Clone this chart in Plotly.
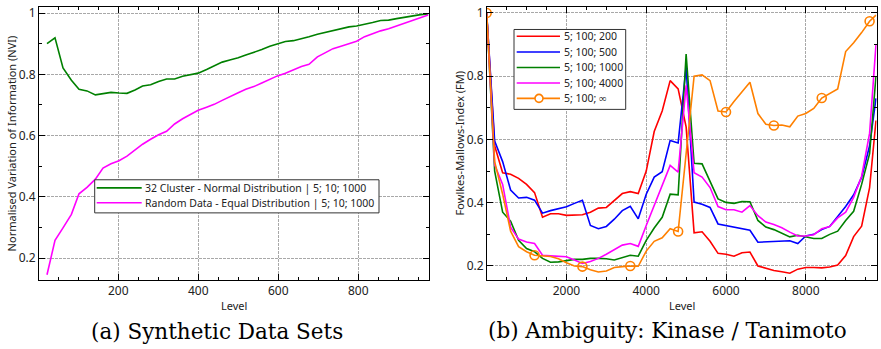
import plotly.graph_objects as go

# ---------------- data: (a) Synthetic Data Sets ----------------
levels_a = [22, 42, 62, 83, 102, 122, 143, 162, 182, 202, 222, 242, 261, 281, 301, 321,
            341, 361, 381, 400, 421, 440, 460, 479, 500, 519, 539, 559, 579, 598, 618,
            638, 658, 677, 698, 717, 737, 757, 777, 796, 816, 836, 856, 876, 896, 916,
            936, 956, 975]
cluster_nvi = [0.900, 0.919, 0.821, 0.781, 0.751, 0.746, 0.733, 0.737, 0.741, 0.739, 0.738,
               0.749, 0.762, 0.766, 0.777, 0.785, 0.785, 0.794, 0.798, 0.804, 0.816, 0.828,
               0.840, 0.847, 0.854, 0.863, 0.871, 0.881, 0.892, 0.899, 0.907, 0.910, 0.916,
               0.923, 0.931, 0.937, 0.943, 0.948, 0.955, 0.958, 0.963, 0.969, 0.976, 0.977,
               0.982, 0.987, 0.992, 0.995, 0.997]
random_nvi = [0.146, 0.258, 0.299, 0.343, 0.410, 0.431, 0.458, 0.494, 0.508, 0.518, 0.533,
              0.553, 0.572, 0.588, 0.603, 0.614, 0.638, 0.655, 0.670, 0.683, 0.693, 0.702,
              0.715, 0.728, 0.740, 0.751, 0.760, 0.772, 0.785, 0.795, 0.804, 0.815, 0.826,
              0.833, 0.857, 0.870, 0.884, 0.892, 0.899, 0.908, 0.923, 0.933, 0.942, 0.949,
              0.958, 0.965, 0.974, 0.984, 0.994]
names_a = ["32 Cluster - Normal Distribution | 5; 10; 1000",
           "Random Data - Equal Distribution | 5; 10; 1000"]
colors_a = ["#008000", "#ff00ff"]

# ---------------- data: (b) Ambiguity: Kinase / Tanimoto ----------------
levels_b = [0, 200, 400, 600, 800, 1000, 1200, 1400, 1600, 1800, 2000, 2200, 2400, 2600,
            2800, 3000, 3200, 3400, 3600, 3800, 4000, 4200, 4400, 4600, 4800, 5000, 5200,
            5400, 5600, 5800, 6000, 6200, 6400, 6600, 6800, 7000, 7200, 7400, 7600, 7800,
            8000, 8200, 8400, 8600, 8800, 9000, 9200, 9400, 9600, 9760]
fm_200 = [1.0, 0.58, 0.495, 0.490, 0.477, 0.458, 0.432, 0.354, 0.365, 0.365, 0.360, 0.360,
          0.362, 0.370, 0.383, 0.385, 0.406, 0.429, 0.435, 0.429, 0.500, 0.625, 0.690,
          0.786, 0.760, 0.640, 0.305, 0.308, 0.278, 0.240, 0.237, 0.231, 0.242, 0.244,
          0.200, 0.192, 0.186, 0.182, 0.177, 0.190, 0.195, 0.195, 0.194, 0.197, 0.203,
          0.233, 0.293, 0.326, 0.448, 0.66]
fm_500 = [1.0, 0.595, 0.530, 0.440, 0.415, 0.417, 0.408, 0.367, 0.375, 0.380, 0.387, 0.398,
          0.408, 0.328, 0.318, 0.325, 0.348, 0.375, 0.389, 0.349, 0.427, 0.481, 0.498,
          0.597, 0.589, 0.830, 0.402, 0.395, 0.385, 0.333, 0.328, 0.323, 0.318, 0.313,
          0.275, 0.276, 0.279, 0.278, 0.280, 0.271, 0.295, 0.300, 0.315, 0.325, 0.358,
          0.388, 0.425, 0.480, 0.580, 0.73]
fm_1000 = [1.0, 0.50, 0.370, 0.342, 0.281, 0.255, 0.245, 0.224, 0.212, 0.213, 0.217, 0.221,
           0.221, 0.224, 0.224, 0.223, 0.219, 0.227, 0.234, 0.231, 0.281, 0.320, 0.354,
           0.427, 0.425, 0.870, 0.525, 0.523, 0.469, 0.412, 0.401, 0.398, 0.404, 0.403,
           0.344, 0.323, 0.315, 0.304, 0.292, 0.297, 0.292, 0.287, 0.287, 0.300, 0.310,
           0.344, 0.373, 0.458, 0.555, 0.80]
fm_4000 = [1.0, 0.52, 0.458, 0.323, 0.285, 0.276, 0.271, 0.234, 0.232, 0.231, 0.229, 0.219,
           0.208, 0.214, 0.224, 0.237, 0.252, 0.266, 0.271, 0.262, 0.328, 0.391, 0.458,
           0.518, 0.497, 0.771, 0.495, 0.481, 0.448, 0.388, 0.378, 0.378, 0.370, 0.391,
           0.359, 0.339, 0.331, 0.321, 0.307, 0.295, 0.295, 0.299, 0.318, 0.325, 0.352,
           0.370, 0.417, 0.484, 0.620, 0.90]
fm_inf = [1.0, 0.53, 0.427, 0.310, 0.261, 0.245, 0.234, 0.232, 0.230, 0.223, 0.210, 0.200,
          0.198, 0.188, 0.181, 0.184, 0.195, 0.198, 0.200, 0.199, 0.247, 0.278, 0.289,
          0.318, 0.309, 0.555, 0.800, 0.804, 0.786, 0.690, 0.687, 0.720, 0.750, 0.781,
          0.682, 0.648, 0.644, 0.646, 0.640, 0.674, 0.682, 0.698, 0.731, 0.745, 0.760,
          0.878, 0.906, 0.938, 0.974, 0.993]
names_b = ["5; 100; 200", "5; 100; 500", "5; 100; 1000", "5; 100; 4000", "5; 100; ∞"]
colors_b = ["#ff0000", "#0000ff", "#008000", "#ff00ff", "#ff8000"]
marker_every = 6

W, H = 881, 349
TICKFONT = dict(family="Noto Sans", size=12, color="#222222")
LEGFONT = dict(family="Noto Sans", size=10.5, color="#222222")
LW = 1.6

fig = go.Figure()

# left panel
for ys, nm, col in zip([cluster_nvi, random_nvi], names_a, colors_a):
    fig.add_trace(go.Scatter(x=levels_a, y=ys, name=nm, mode="lines",
                             line=dict(color=col, width=LW), xaxis="x", yaxis="y"))

# right panel
for ys, nm, col in zip([fm_200, fm_500, fm_1000, fm_4000, fm_inf], names_b, colors_b):
    fig.add_trace(go.Scatter(x=levels_b, y=ys, name=nm, mode="lines",
                             line=dict(color=col, width=LW), xaxis="x2", yaxis="y2"))
fig.add_trace(go.Scatter(x=levels_b[::marker_every], y=fm_inf[::marker_every],
                         mode="markers", name=names_b[4],
                         marker=dict(symbol="circle-open", size=9,
                                     color=colors_b[4], line=dict(width=1.6)),
                         xaxis="x2", yaxis="y2"))


def axis(domain, anchor, rng, dtick, minor_dtick, tickformat=None):
    d = dict(domain=domain, anchor=anchor, range=rng, dtick=dtick, tick0=0,
             showline=True, linecolor="black", linewidth=1, mirror="ticks",
             ticks="inside", ticklen=6, tickcolor="black", tickwidth=1,
             showgrid=True, gridcolor="#a8a8a8", gridwidth=1, griddash="3px,1px",
             zeroline=False, tickfont=TICKFONT,
             minor=dict(dtick=minor_dtick, ticks="inside", ticklen=3,
                        tickcolor="black", showgrid=False))
    if tickformat:
        d["tickformat"] = tickformat
    return d


ydom = [1 - 279.3 / H, 1 - 4 / H]
fig.update_layout(
    width=W, height=H, margin=dict(l=0, r=0, t=0, b=0),
    paper_bgcolor="white", plot_bgcolor="white", showlegend=False,
    xaxis=axis([39 / W, 429 / W], "y", [2, 977], 200, 50, "d"),
    yaxis=axis(ydom, "x", [0.129, 1.020], 0.2, 0.1),
    xaxis2=axis([487 / W, 876.7 / W], "y2", [8, 9778], 2000, 500, "d"),
    yaxis2=axis(ydom, "x2", [0.156, 1.019], 0.2, 0.1),
)


def px(x):
    return x / W


def py(y):
    return 1 - y / H


shapes = []
annotations = []


def legend_box(x0, y0, x1, y1, line_x0, line_x1, text_x, rows, names, colors, marker_idx=None, marker_x=None):
    shapes.append(dict(type="rect", xref="paper", yref="paper",
                       x0=px(x0), x1=px(x1), y0=py(y1), y1=py(y0),
                       fillcolor="white", line=dict(color="#333333", width=1)))
    for i, (ry, nm, col) in enumerate(zip(rows, names, colors)):
        shapes.append(dict(type="line", xref="paper", yref="paper",
                           x0=px(line_x0), x1=px(line_x1), y0=py(ry), y1=py(ry),
                           line=dict(color=col, width=LW)))
        annotations.append(dict(text=nm, x=px(text_x), y=py(ry), xanchor="left",
                                yanchor="middle", font=LEGFONT))
        if marker_idx is not None and i == marker_idx:
            r = 4
            shapes.append(dict(type="circle", xref="paper", yref="paper",
                               x0=px(marker_x - r), x1=px(marker_x + r),
                               y0=py(ry + r), y1=py(ry - r),
                               fillcolor="white", line=dict(color=col, width=1.6)))


legend_box(94.7, 178.3, 379, 211.7, 96.7, 141.7, 142.5, [186.5, 201.5], names_a, colors_a)
legend_box(514, 26.7, 625.7, 107.3, 516.7, 560, 561.5, [33.5, 49.5, 65, 80.7, 96.2],
           names_b, colors_b, marker_idx=4, marker_x=539)

ann_font = dict(family="Noto Sans", size=11, color="#222222")
serif = dict(family="DejaVu Serif", size=21.5, color="black")
annotations += [
    dict(text="Normalised Variation of Information (NVI)", x=px(11), y=py(141.6),
         textangle=-90, font=ann_font),
    dict(text="Fowlkes-Mallows-Index (FM)", x=px(459), y=py(141.6),
         textangle=-90, font=ann_font),
    dict(text="Level", x=px(234), y=py(305), font=ann_font),
    dict(text="Level", x=px(682), y=py(305), font=ann_font),
    dict(text="(a) Synthetic Data Sets", x=px(217), y=py(331), font=serif),
    dict(text="(b) Ambiguity: Kinase / Tanimoto", x=px(667), y=py(330), font=serif),
]
for a in annotations:
    a.setdefault("xanchor", "center")
    a.setdefault("yanchor", "middle")
    a.update(xref="paper", yref="paper", showarrow=False)
fig.update_layout(shapes=shapes, annotations=annotations)

fig.write_html("out.html", config={"displayModeBar": False},
               post_script="document.body.style.margin='0px';")
